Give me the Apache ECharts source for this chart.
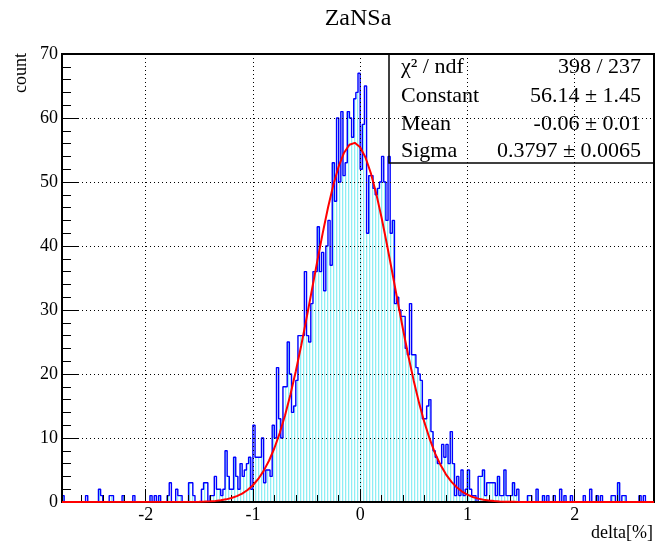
<!DOCTYPE html>
<html><head><meta charset="utf-8">
<script src="https://cdn.jsdelivr.net/npm/echarts@6/dist/echarts.min.js"></script>
<style>html,body{margin:0;padding:0;background:#fff}#c{width:656px;height:546px}</style>
</head><body><div id="c"></div>
<script>
const chartTitle = 'ZaNSa';
const xAxisName = 'delta[%]';
const yAxisName = 'count';
const binLow = -2.78;
const binWidth = 0.02;
const counts = [
1,0,0,0,0,0,0,0,0,0,
0,1,0,0,0,0,0,2,1,0,
0,0,1,1,0,0,0,0,1,0,
0,0,0,1,0,0,0,0,0,0,
0,1,0,1,0,1,0,0,0,1,
3,0,0,2,1,1,0,0,0,3,
3,1,0,0,0,2,3,3,0,1,
1,4,2,2,1,2,8,4,2,2,
7,4,2,6,4,5,6,7,2,12,
7,7,7,10,3,5,5,4,12,10,
21,13,10,18,18,25,20,14,15,19,
26,26,26,36,26,25,31,36,36,43,
36,39,33,40,44,37,53,47,60,50,
61,51,53,61,60,57,63,64,67,52,
59,65,42,51,51,49,48,49,50,54,
50,44,54,42,44,31,32,30,29,29,
24,23,31,23,23,21,20,19,13,13,
15,16,11,8,7,6,6,9,7,9,
6,11,6,1,4,1,5,1,2,5,
2,1,1,0,4,4,5,1,3,3,
3,3,1,4,1,1,5,1,1,1,
3,1,2,0,0,0,0,1,1,0,
0,2,0,0,1,0,1,0,0,1,
0,0,2,0,1,0,0,1,0,0,
0,0,0,1,0,0,2,0,0,1,
0,1,0,0,0,0,1,1,0,3,
0,1,1,0,0,0,0,0,0,1,
0,1,0,0,0,0
];
// fitted gaussian curve samples (x, y)
const fitX = [-2.78,-1.50,-1.45,-1.40,-1.35,-1.30,-1.25,-1.20,-1.15,-1.10,-1.05,-1.00,-0.95,-0.90,-0.85,-0.80,-0.75,-0.70,-0.65,-0.60,-0.55,-0.50,-0.45,-0.40,-0.35,-0.30,-0.25,-0.20,-0.15,-0.10,-0.05,0.00,0.05,0.10,0.15,0.20,0.25,0.30,0.35,0.40,0.45,0.50,0.55,0.60,0.65,0.70,0.75,0.80,0.85,0.90,0.95,1.00,1.05,1.10,1.15,1.20,1.25,1.30,1.35,1.40,1.45,1.50,2.74];
const fitY = [0,0.042,0.069,0.111,0.175,0.271,0.413,0.619,0.912,1.319,1.875,2.621,3.599,4.859,6.446,8.40,10.77,13.56,16.79,20.42,24.41,28.69,33.13,37.60,41.94,45.97,49.53,52.45,54.58,55.83,56.12,55.44,53.83,51.37,48.18,44.41,40.23,35.82,31.34,26.95,22.78,18.92,15.45,12.40,9.77,7.57,5.77,4.318,3.178,2.297,1.633,1.140,0.782,0.528,0.350,0.228,0.146,0.092,0.057,0.035,0.021,0.012,0];
const xMajorTicks = [-2,-1,0,1,2];
const xMinorTicks = [-2.6,-2.4,-2.2,-1.8,-1.6,-1.4,-1.2,-0.8,-0.6,-0.4,-0.2,0.2,0.4,0.6,0.8,1.2,1.4,1.6,1.8,2.2,2.4,2.6];
const statsLabels = ['χ² / ndf','Constant','Mean','Sigma'];
const statsValues = ['398 / 237','56.14 ± 1.45','-0.06 ± 0.01','0.3797 ± 0.0065'];

const FONT = '"Liberation Serif", "DejaVu Serif", serif';
const xMin = binLow, xMax = binLow + counts.length * binWidth;

const histPoints = counts.map((c, k) => [binLow + k * binWidth, c]);
histPoints.push([xMax, counts[counts.length - 1]]);
const fitPoints = fitX.map((x, i) => [x, fitY[i]]);

// hatch pattern for histogram fill
const pc = document.createElement('canvas');
pc.width = 3; pc.height = 4;
const pctx = pc.getContext('2d');
pctx.fillStyle = '#ffffff'; pctx.fillRect(0,0,3,4);
pctx.fillStyle = '#8eeef4'; pctx.fillRect(0,0,1,4);
pctx.fillStyle = '#e2fafc'; pctx.fillRect(1,0,1,4);

const chart = echarts.init(document.getElementById('c'), null, {renderer: 'canvas'});
const statsGraphics = [];
const rowY = [67, 96, 124, 151];
statsLabels.forEach((t, i) => {
  statsGraphics.push({type: 'text', x: 401, y: rowY[i], z: 100,
    style: {text: t, font: '22px ' + FONT, fill: '#000', textAlign: 'left', textVerticalAlign: 'middle'}});
  statsGraphics.push({type: 'text', x: 641, y: rowY[i], z: 100,
    style: {text: statsValues[i], font: '22px ' + FONT, fill: '#000', textAlign: 'right', textVerticalAlign: 'middle'}});
});

chart.setOption({
  animation: false,
  backgroundColor: '#fff',
  grid: {left: 62, top: 54, width: 592, height: 448, show: true, borderColor: '#000', borderWidth: 2, backgroundColor: 'transparent'},
  xAxis: [{
    type: 'value', min: xMin, max: xMax, position: 'bottom', z: 5,
    axisLine: {show: true, onZero: false, lineStyle: {color: '#000', width: 2}},
    axisTick: {show: true, inside: true, length: 13, customValues: xMajorTicks, lineStyle: {color: '#000', width: 1}},
    axisLabel: {show: true, customValues: xMajorTicks, margin: 4, color: '#000', fontSize: 18, fontFamily: FONT},
    splitLine: {show: true, lineStyle: {color: '#000', width: 1, type: [1, 3]}}
  }, {
    type: 'value', min: xMin, max: xMax, position: 'bottom', z: 5,
    axisLine: {show: false, onZero: false},
    axisTick: {show: true, inside: true, length: 7, customValues: xMinorTicks, lineStyle: {color: '#000', width: 1}},
    axisLabel: {show: false},
    splitLine: {show: false}
  }],
  yAxis: {
    type: 'value', min: 0, max: 70, interval: 10, z: 5, position: 'left',
    axisLine: {show: true, onZero: false, lineStyle: {color: '#000', width: 2}},
    axisTick: {show: true, inside: true, length: 17, lineStyle: {color: '#000', width: 1}},
    minorTick: {show: true, splitNumber: 5, length: 9, lineStyle: {color: '#000', width: 1}},
    axisLabel: {margin: 4, color: '#000', fontSize: 18, fontFamily: FONT},
    splitLine: {show: true, lineStyle: {color: '#000', width: 1, type: [1, 3]}}
  },
  series: [{
    type: 'line', xAxisIndex: 0, data: histPoints, step: 'end', symbol: 'none', z: 2,
    lineStyle: {color: '#0000ff', width: 1.4},
    areaStyle: {color: {image: pc, repeat: 'repeat'}, opacity: 1, origin: 'start'}
  }, {
    type: 'line', xAxisIndex: 0, data: fitPoints, symbol: 'none', z: 6, smooth: false,
    lineStyle: {color: '#ff0000', width: 2}
  }],
  graphic: [
    {type: 'text', x: 358, y: 19, style: {text: chartTitle, font: '24px ' + FONT, fill: '#000', textAlign: 'center', textVerticalAlign: 'middle'}},
    {type: 'text', x: 21, y: 73, rotation: Math.PI / 2, style: {text: yAxisName, font: '18px ' + FONT, fill: '#000', textAlign: 'center', textVerticalAlign: 'middle'}},
    {type: 'text', x: 653, y: 533, style: {text: xAxisName, font: '18px ' + FONT, fill: '#000', textAlign: 'right', textVerticalAlign: 'middle'}},
    {type: 'rect', shape: {x: 389, y: 54, width: 265, height: 109}, z: 99, style: {fill: 'none', stroke: '#000', lineWidth: 1.5}}
  ].concat(statsGraphics)
});
</script></body></html>
